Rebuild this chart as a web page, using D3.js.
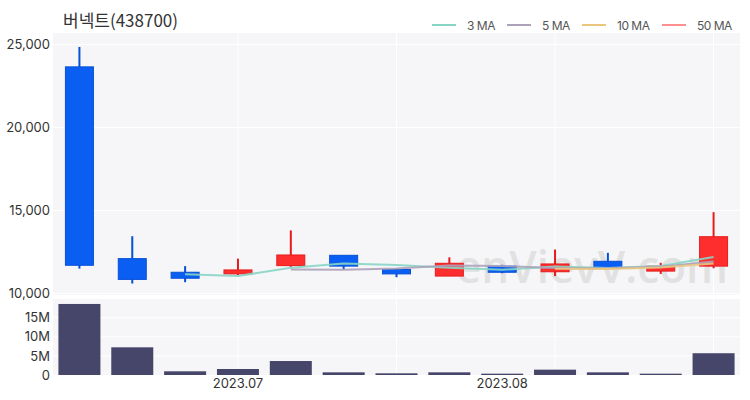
<!DOCTYPE html>
<html>
<head>
<meta charset="utf-8">
<script src="https://cdn.jsdelivr.net/npm/d3@7"></script>
<style>
  html, body { margin: 0; padding: 0; background: #fff; }
  svg { display: block; font-family: Inter, "Noto Sans CJK KR", "Noto Sans", sans-serif; }
</style>
</head>
<body>
<svg id="chart" width="750" height="400"></svg>
<script>
// ---- data ----
const title = "버넥트(438700)";
const categories = ["2023-06-12","2023-06-19","2023-06-26","2023-07-03","2023-07-10","2023-07-17","2023-07-24","2023-07-31","2023-08-07","2023-08-14","2023-08-21","2023-08-28","2023-09-04"];
const openV  = [23650, 12100, 11280, 11180, 11680, 12300, 11450, 11050, 11650, 11310, 11940, 11350, 11650];
const highV  = [24850, 13450, 11650, 12100, 13800, 12300, 11530, 12180, 11730, 12650, 12450, 11850, 14900];
const lowV   = [11500, 10600, 10680, 11100, 11600, 11450, 10980, 11050, 11220, 11050, 11540, 11180, 11520];
const closeV = [11700, 10850, 10920, 11420, 12320, 11650, 11180, 11820, 11280, 11780, 11540, 11650, 13420];
const volumeV = [18.6e6, 7.25e6, 0.97e6, 1.57e6, 3.66e6, 0.7e6, 0.44e6, 0.7e6, 0.35e6, 1.4e6, 0.7e6, 0.35e6, 5.7e6];
const ma3  = [null, null, 11160, 11060, 11550, 11800, 11720, 11550, 11430, 11630, 11530, 11660, 12200];
const ma5  = [null, null, null, null, 11440, 11430, 11500, 11680, 11650, 11540, 11520, 11610, 11930];
const ma10 = [null, null, null, null, null, null, null, null, null, 11490, 11480, 11560, 11810];
const ma50 = [];
const legendLabels = ["3 MA", "5 MA", "10 MA", "50 MA"];
const priceTicks = [10000, 15000, 20000, 25000];
const volumeTicks = [0, 5e6, 10e6, 15e6];
const tickCats = ["2023-07-03", "2023-08-07"];
const tickLabels = ["2023.07", "2023.08"];
const gridCats = ["2023-07-03", "2023-07-24", "2023-08-14", "2023-09-04"];

// ---- layout ----
const svg = d3.select("#chart");
const L = 53, R = 740;
const pTop = 33, pBot = 295;
const vTop = 299, vBot = 375;
const panelBg = "#f6f6f8";
const upColor = "#fe2e2e", upStroke = "#e51c1c";
const dnColor = "#0a5ff2", dnStroke = "#0650d6";
const maColors = ["#88d5c5", "#aca2ba", "#eac57e", "#ff8f8f"];

const x = d3.scaleBand().domain(categories).range([L, R]).padding(0);
const y = d3.scaleLinear().domain([9910, 25690]).range([pBot, pTop]);
const yv = d3.scaleLinear().domain([0, 19.9e6]).range([vBot, vTop]);

// panels
svg.append("rect").attr("x", L).attr("y", pTop).attr("width", R - L).attr("height", pBot - pTop).attr("fill", panelBg);
svg.append("rect").attr("x", L).attr("y", vTop).attr("width", R - L).attr("height", vBot - vTop).attr("fill", panelBg);

// gridlines
const cx = c => x(c) + x.bandwidth() / 2;
const grid = svg.append("g").attr("stroke", "#ffffff").attr("stroke-width", 1);
gridCats.forEach(c => {
  grid.append("line").attr("x1", cx(c)).attr("x2", cx(c)).attr("y1", pTop).attr("y2", pBot);
  grid.append("line").attr("x1", cx(c)).attr("x2", cx(c)).attr("y1", vTop).attr("y2", vBot);
});
priceTicks.forEach(t => grid.append("line").attr("x1", L).attr("x2", R).attr("y1", y(t)).attr("y2", y(t)));
volumeTicks.slice(1).forEach(t => grid.append("line").attr("x1", L).attr("x2", R).attr("y1", yv(t)).attr("y2", yv(t)));

// watermark
svg.append("text").attr("x", 456).attr("y", 283)
  .attr("font-size", 46).attr("font-family", "'Open Sans', sans-serif").attr("font-weight", 600)
  .attr("fill", "#d4d4d4").attr("opacity", 0.6)
  .attr("textLength", 272).attr("lengthAdjust", "spacingAndGlyphs")
  .text("enVievV.com");

// candles
const bodyW = 28;
const candles = svg.append("g");
categories.forEach((c, i) => {
  const up = closeV[i] >= openV[i];
  const fill = up ? upColor : dnColor;
  const stroke = up ? upStroke : dnStroke;
  candles.append("line")
    .attr("x1", cx(c)).attr("x2", cx(c))
    .attr("y1", y(highV[i])).attr("y2", y(lowV[i]))
    .attr("stroke", stroke).attr("stroke-width", 2);
  const top = y(Math.max(openV[i], closeV[i]));
  const bot = y(Math.min(openV[i], closeV[i]));
  candles.append("rect")
    .attr("x", cx(c) - bodyW / 2).attr("y", top)
    .attr("width", bodyW).attr("height", Math.max(1.5, bot - top))
    .attr("fill", fill).attr("stroke", stroke).attr("stroke-width", 1);
});

// moving averages
const line = d3.line()
  .defined(d => d.v != null)
  .x(d => cx(d.c)).y(d => y(d.v));
[ma3, ma5, ma10, ma50].forEach((arr, k) => {
  const pts = categories.map((c, i) => ({ c, v: arr[i] == null ? null : arr[i] }));
  if (!pts.some(p => p.v != null)) return;
  svg.append("path").datum(pts)
    .attr("d", line).attr("fill", "none")
    .attr("stroke", maColors[k]).attr("stroke-width", 2).attr("opacity", 0.9);
});

// volume bars
const volW = 42;
svg.append("g").selectAll("rect").data(categories).join("rect")
  .attr("x", c => cx(c) - volW / 2)
  .attr("y", (c, i) => yv(volumeV[i]))
  .attr("width", volW)
  .attr("height", (c, i) => vBot - yv(volumeV[i]))
  .attr("fill", "#46466b");

// axes
const styleAxis = g => {
  g.select(".domain").remove();
  g.selectAll(".tick line").remove();
  g.selectAll("text").attr("fill", "#333").attr("font-size", 13)
    .attr("font-family", "Inter, sans-serif");
};
svg.append("g").attr("transform", `translate(${L - 1},0)`)
  .call(d3.axisLeft(y).tickValues(priceTicks).tickFormat(d3.format(",")).tickSize(0).tickPadding(2))
  .call(styleAxis);
const vfmt = d => d === 0 ? "0" : (d / 1e6) + "M";
svg.append("g").attr("transform", `translate(${L - 1},0)`)
  .call(d3.axisLeft(yv).tickValues(volumeTicks).tickFormat(vfmt).tickSize(0).tickPadding(2))
  .call(styleAxis);
svg.append("g").attr("transform", `translate(0,${vBot})`)
  .call(d3.axisBottom(x).tickValues(tickCats).tickFormat((d, i) => tickLabels[i]).tickSize(0).tickPadding(4))
  .call(styleAxis);

// title
svg.append("text").attr("x", 63).attr("y", 27)
  .attr("font-size", 17).attr("fill", "#333")
  .attr("font-family", "'Noto Sans CJK KR', Inter, sans-serif")
  .text(title);

// legend
const legX = [432, 507, 582, 662];
const leg = svg.append("g");
legendLabels.forEach((t, k) => {
  leg.append("line").attr("x1", legX[k]).attr("x2", legX[k] + 24).attr("y1", 25).attr("y2", 25)
    .attr("stroke", maColors[k]).attr("stroke-width", 2);
  leg.append("text").attr("x", legX[k] + 35).attr("y", 29.5)
    .attr("font-size", 12).attr("fill", "#555").attr("font-family", "Inter, sans-serif")
    .attr("letter-spacing", -0.5)
    .text(t);
});
</script>
</body>
</html>
